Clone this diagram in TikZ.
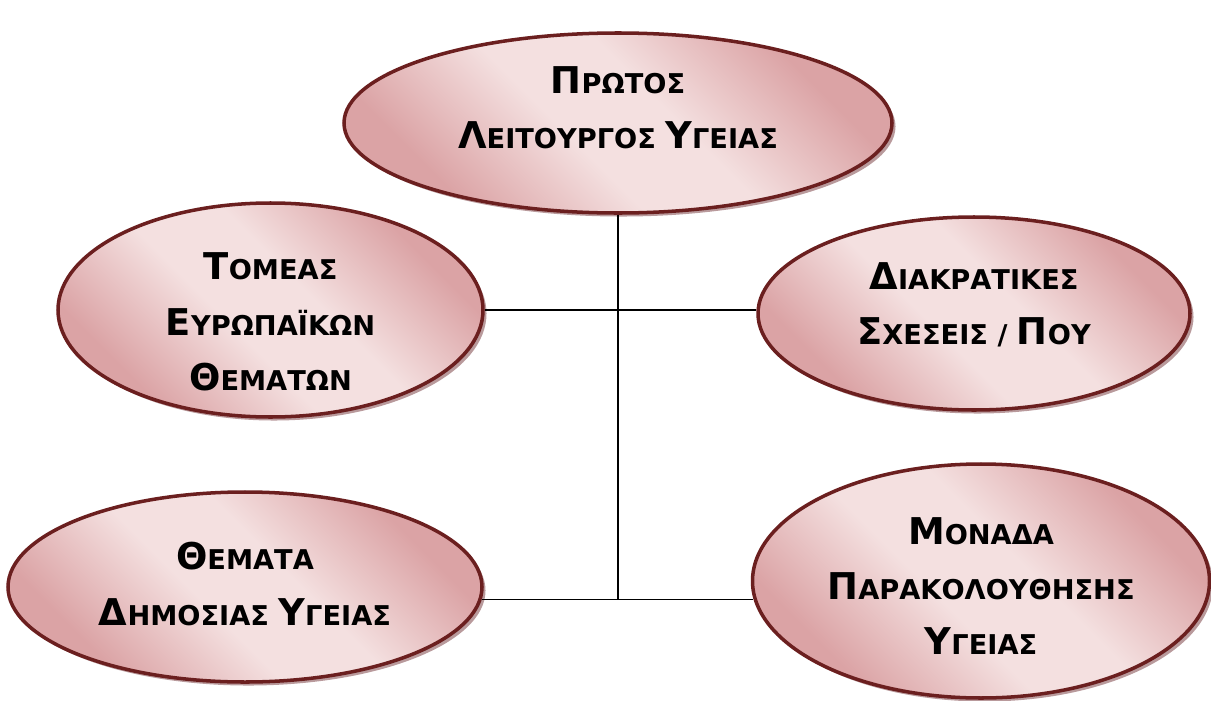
\documentclass[tikz,border=0pt]{standalone}
\usepackage{fontspec}
\setmainfont{DejaVu Sans}
\usetikzlibrary{positioning,shadows,shapes.geometric}
\definecolor{rimred}{HTML}{6B1F1F}
\definecolor{rosedark}{HTML}{DBA3A5}
\definecolor{roselight}{HTML}{F4E0E0}
\definecolor{shadowrose}{HTML}{B99A9C}
\pgfdeclareverticalshading{rosy}{100bp}{color(0bp)=(rosedark); color(27bp)=(rosedark);
	color(44bp)=(roselight); color(56bp)=(roselight); color(73bp)=(rosedark); color(100bp)=(rosedark)}
\newcommand{\Cap}[1]{{\fontsize{21}{31.5}\selectfont #1}}
\tikzstyle{unit}=[
	ellipse,
	line width=2pt,
	draw=rimred,
	shading=rosy,
	shading angle=135,
	inner sep=0pt,
	drop shadow={shadow xshift=2pt,shadow yshift=-2pt,fill=shadowrose,opacity=1}
]
\tikzstyle{caption}=[
	align=center,
	inner sep=0pt,
	font=\bfseries\fontsize{15.5}{31.5}\selectfont
]
\tikzstyle{link}=[
	line width=0.9pt,
	black
]

\begin{document}
\begin{tikzpicture}
\useasboundingbox (0,0) rectangle (24.22,-14);
\node [unit, minimum width=10.96cm, minimum height=3.6cm] (Protos) at (12.36,-2.46) {};
\node [caption] (ProtosText) at ([yshift=0.3cm]Protos.center)
	{\Cap{Π}ΡΩΤΟΣ\\ \Cap{Λ}ΕΙΤΟΥΡΓΟΣ \Cap{Υ}ΓΕΙΑΣ};
\node [unit, minimum width=8.5cm, minimum height=4.28cm] (Tomeas) at (5.41,-6.2) {};
\node [caption] (TomeasText) at ([yshift=-0.24cm]Tomeas.center)
	{\Cap{Τ}ΟΜΕΑΣ\\ \Cap{Ε}ΥΡΩΠΑΪΚΩΝ\\ \Cap{Θ}ΕΜΑΤΩΝ};
\node [unit, minimum width=8.64cm, minimum height=3.86cm] (Diakratikes) at (19.48,-6.27) {};
\node [caption] (DiakratikesText) at ([yshift=0.17cm]Diakratikes.center)
	{\Cap{Δ}ΙΑΚΡΑΤΙΚΕΣ\\ \Cap{Σ}ΧΕΣΕΙΣ / \Cap{Π}ΟΥ};
\node [unit, minimum width=9.48cm, minimum height=3.8cm] (Themata) at (4.9,-11.74) {};
\node [caption] (ThemataText) at ([yshift=0.06cm]Themata.center)
	{\Cap{Θ}ΕΜΑΤΑ\\ \Cap{Δ}ΗΜΟΣΙΑΣ \Cap{Υ}ΓΕΙΑΣ};
\node [unit, minimum width=9.14cm, minimum height=4.68cm] (Monada) at (19.62,-11.62) {};
\node [caption] (MonadaText) at ([yshift=-0.1cm]Monada.center)
	{\Cap{Μ}ΟΝΑΔΑ\\ \Cap{Π}ΑΡΑΚΟΛΟΥΘΗΣΗΣ\\ \Cap{Υ}ΓΕΙΑΣ};
% connectors
\coordinate (Bottom) at (Protos.south |- Themata.-3.2);
\draw [link] (Protos.south) -- (Bottom);
\draw [link] (Tomeas.east) -- (Tomeas.east -| Diakratikes.west);
\draw [link] (Themata.-3.2) -- (Bottom) -- (Bottom -| Monada.184.8);
\end{tikzpicture}
\end{document}
